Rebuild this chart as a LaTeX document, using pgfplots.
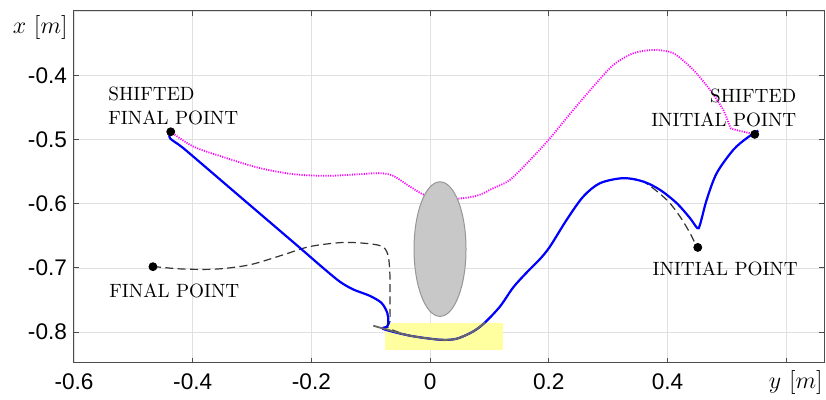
\documentclass[border=0pt]{standalone}
\usepackage{pgfplots}
\pgfplotsset{compat=1.18}
\usepackage{fontspec}
\newfontfamily\arial{Liberation Sans}
\definecolor{obst}{RGB}{200,200,200}
\definecolor{obstedge}{RGB}{150,150,150}
\definecolor{contact}{RGB}{255,255,160}
\definecolor{mag}{RGB}{255,0,255}
\definecolor{traj}{RGB}{0,0,255}
\begin{document}
\begin{tikzpicture}
\useasboundingbox (-37pt,-18.5pt) rectangle (376pt,181.5pt);
\begin{axis}[
  scale only axis,
  width=375pt, height=176pt,
  xmin=-0.6, xmax=0.6637, ymin=-0.8479, ymax=-0.3,
  xtick={-0.6,-0.4,-0.2,0,0.2,0.4,0.6},
  xticklabels={-0.6,-0.4,-0.2,0,0.2,0.4,{}},
  ytick={-0.8,-0.7,-0.6,-0.5,-0.4,-0.3},
  yticklabels={-0.8,-0.7,-0.6,-0.5,-0.4,{}},
  tick align=inside, tick pos=both,
  major tick length=2.5pt,
  grid=major,
  grid style={black!12, line width=0.4pt},
  axis line style={black!70, line width=0.5pt},
  tick style={black!70, line width=0.5pt},
  ticklabel style={font=\arial\fontsize{11.3}{13}\selectfont},
  xticklabel style={yshift=-2pt},
  clip=false,
]
% contact zone
\fill[contact] (axis cs:-0.076,-0.827) rectangle (axis cs:0.1234,-0.785);

% shifted reference (magenta dotted)
\addplot[mag, line width=0.9pt, dash pattern=on 0.55pt off 0.65pt, smooth] coordinates {
  (-0.437,-0.488) (-0.399,-0.511) (-0.3427,-0.5291) (-0.2866,-0.5446)
  (-0.2305,-0.554) (-0.1742,-0.5566) (-0.1181,-0.554) (-0.0844,-0.5524)
  (-0.062,-0.5566) (-0.0339,-0.5733) (-0.0057,-0.5877) (0.0391,-0.5924)
  (0.0785,-0.5877) (0.1065,-0.5757) (0.1346,-0.5628) (0.1739,-0.5266)
  (0.202,-0.498) (0.2413,-0.454) (0.275,-0.4177) (0.3087,-0.384)
  (0.3424,-0.3658) (0.3761,-0.3607) (0.4098,-0.3658) (0.4435,-0.3918)
  (0.4716,-0.4229) (0.494,-0.454) (0.5053,-0.48) (0.5108,-0.484)
  (0.547,-0.492)
};

% obstacle
\draw[fill=obst, draw=obstedge, line width=0.5pt] (axis cs:0.0167,-0.6706) ellipse [x radius=0.0438, y radius=0.1047];

% reference (black dashed)
\addplot[black!80, line width=0.6pt, dash pattern=on 4pt off 2.2pt, smooth] coordinates {
  (-0.467,-0.6977) (-0.4158,-0.7017) (-0.3596,-0.7017) (-0.3035,-0.695)
  (-0.2473,-0.6795) (-0.2024,-0.6666) (-0.1463,-0.6603) (-0.1013,-0.6624)
  (-0.0789,-0.6675) (-0.0704,-0.6821) (-0.0676,-0.7132) (-0.0676,-0.7495)
  (-0.0676,-0.7832) (-0.0709,-0.793) (-0.0339,-0.8054) (0.0167,-0.8117)
  (0.0448,-0.8101) (0.0728,-0.7987) (0.0925,-0.7848) (0.1178,-0.7599)
  (0.1402,-0.7300) (0.1628,-0.7070) (0.1852,-0.6860) (0.202,-0.6666)
  (0.2301,-0.625) (0.2581,-0.5888) (0.2863,-0.568) (0.3255,-0.5602)
  (0.3592,-0.5655) (0.3986,-0.5939) (0.421,-0.6199) (0.4379,-0.6457)
  (0.4463,-0.6613) (0.451,-0.668)
};

% executed trajectory (blue)
\addplot[traj, line width=1.1pt, smooth] coordinates {
  (-0.437,-0.488) (-0.4383,-0.498) (-0.4158,-0.5135) (-0.3596,-0.5578)
  (-0.3035,-0.6022) (-0.2473,-0.6466) (-0.2137,-0.6732) (-0.18,-0.7002)
  (-0.1518,-0.7215) (-0.1294,-0.7335) (-0.1013,-0.7435) (-0.0816,-0.7546)
  (-0.0721,-0.7701) (-0.0704,-0.7832) (-0.0721,-0.791) (-0.0789,-0.795)
  (-0.0339,-0.8054) (0.0167,-0.8117) (0.0448,-0.8101) (0.0728,-0.7987)
  (0.0925,-0.7848) (0.1178,-0.7599) (0.1402,-0.7300) (0.1628,-0.7070)
  (0.1852,-0.6860) (0.202,-0.6666) (0.2301,-0.625) (0.2581,-0.5888)
  (0.2863,-0.568) (0.3255,-0.5602) (0.3592,-0.5655) (0.3873,-0.5784)
  (0.4155,-0.5991) (0.4379,-0.6224) (0.4502,-0.6379) (0.4547,-0.6328)
  (0.466,-0.5939) (0.4829,-0.5524) (0.5108,-0.5162) (0.5334,-0.498)
  (0.553,-0.4862)
};

% contact segment (gray)
\addplot[black!60, line width=0.9pt, smooth] coordinates {
  (-0.0957,-0.7899) (-0.076,-0.795) (-0.0339,-0.8054) (0.0167,-0.8117)
  (0.0448,-0.8101) (0.0728,-0.7987) (0.0925,-0.7848)
};

% points
\addplot[only marks, mark=*, mark size=2pt, black] coordinates {
  (-0.437,-0.488) (-0.467,-0.698) (0.547,-0.492) (0.451,-0.668)
};

\begin{scope}[every node/.style={font=\fontsize{9.6}{11.7}\selectfont, inner sep=0pt}]
\node[anchor=south west, align=left] at (axis cs:-0.5427,-0.4773) {SHIFTED\\FINAL POINT};
\node[anchor=base west] at (axis cs:-0.541,-0.7459) {FINAL POINT};
\node[anchor=south east, align=right] at (axis cs:0.6177,-0.4809) {SHIFTED\\INITIAL POINT};
\node[anchor=base west] at (axis cs:0.3744,-0.7117) {INITIAL POINT};
\end{scope}

\node[anchor=east, font=\fontsize{12}{14}\selectfont, inner sep=0pt] at ([xshift=-3pt,yshift=-8.5pt]rel axis cs:0,1) {$x~[m]$};
\node[anchor=east, font=\fontsize{12}{14}\selectfont, inner sep=0pt] at ([xshift=-0.5pt,yshift=-10pt]rel axis cs:1,0) {$y~[m]$};
\end{axis}
\end{tikzpicture}
\end{document}
